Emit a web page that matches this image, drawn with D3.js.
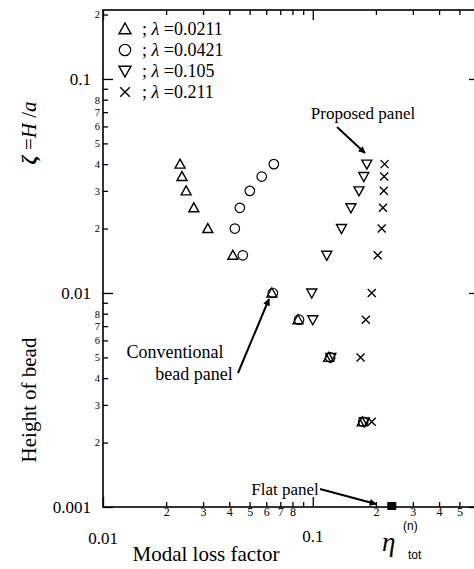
<!DOCTYPE html>
<html>
<head>
<meta charset="utf-8">
<script src="https://cdn.jsdelivr.net/npm/d3@7"></script>
<style>
  body { margin: 0; background: #fff; }
  svg { display: block; font-family: "Liberation Serif", "Times New Roman", serif; }
</style>
</head>
<body>
<div id="chart"></div>
<script>
// height of bead, zeta = H/a (shared by every series)
const heights = [0.04, 0.035, 0.03, 0.025, 0.02, 0.015, 0.01, 0.0075, 0.005, 0.0025];

// modal loss factor per lambda
const lossL0211 = [0.0233, 0.0238, 0.0249, 0.0271, 0.0316, 0.0416, 0.0638, 0.085, 0.119, 0.172];
const lossL0421 = [0.0652, 0.0571, 0.0501, 0.0449, 0.0425, 0.0464, 0.0645, 0.086, 0.121, 0.174];
const lossL105  = [0.181, 0.175, 0.166, 0.152, 0.137, 0.1166, 0.0989, 0.100, 0.122, 0.176];
const lossL211  = [0.220, 0.219, 0.218, 0.216, 0.213, 0.204, 0.191, 0.179, 0.169, 0.191];

const lambdas = ["0.0211", "0.0421", "0.105", "0.211"];
const symbols = ["tri", "circle", "invtri", "cross"];

// flat panel
const flatLoss = 0.238;
const flatHeight = 0.001;

const W = 474, H = 569;
const pLeft = 103, pRight = 479, pTop = 10, pBottom = 507;

const svg = d3.select("#chart").append("svg")
    .attr("width", W)
    .attr("height", H);

const x = d3.scaleLog().domain([0.01, 0.62]).range([pLeft, pRight]);
const y = d3.scaleLog().domain([0.001, 0.21]).range([pBottom, pTop]);

const digit = d => Math.round(d / Math.pow(10, Math.floor(Math.log10(d) + 1e-9)));
const isMajor = d => digit(d) === 1;
const minorLabel = d => { const k = digit(d); return (k >= 2 && k <= 8) ? String(k) : ""; };

const xTicks = x.ticks();
const yTicks = y.ticks();

// frame
svg.append("rect")
    .attr("x", pLeft).attr("y", pTop)
    .attr("width", pRight - pLeft).attr("height", pBottom - pTop)
    .attr("fill", "none").attr("stroke", "#000").attr("stroke-width", 1.6);

function styleAxis(g, dir, fs) {
    g.select(".domain").remove();
    g.selectAll(".tick line")
        .attr("stroke", "#000")
        .attr("stroke-width", 1.3);
    g.selectAll(".tick line").each(function (d) {
        const len = isMajor(d) ? 10 : 5;
        const sel = d3.select(this);
        if (dir === "bottom") sel.attr("y2", -len);
        if (dir === "top") sel.attr("y2", len);
        if (dir === "left") sel.attr("x2", len);
        if (dir === "right") sel.attr("x2", -len);
    });
    g.selectAll(".tick text")
        .attr("fill", "#000")
        .style("font-family", "Liberation Serif")
        .style("font-size", fs + "px");
}

// bottom axis
svg.append("g")
    .attr("transform", `translate(0,${pBottom})`)
    .call(d3.axisBottom(x).tickValues(xTicks).tickFormat(minorLabel).tickSizeInner(-5).tickPadding(0))
    .call(g => styleAxis(g, "bottom", 12));

// top axis
svg.append("g")
    .attr("transform", `translate(0,${pTop})`)
    .call(d3.axisTop(x).tickValues(xTicks).tickFormat("").tickSizeInner(-5))
    .call(g => styleAxis(g, "top", 12));

// left axis
svg.append("g")
    .attr("transform", `translate(${pLeft},0)`)
    .call(d3.axisLeft(y).tickValues(yTicks).tickFormat(minorLabel).tickSizeInner(-5).tickPadding(3))
    .call(g => styleAxis(g, "left", 10.5));

// right axis
svg.append("g")
    .attr("transform", `translate(${pRight},0)`)
    .call(d3.axisRight(y).tickValues(yTicks).tickFormat("").tickSizeInner(-5))
    .call(g => styleAxis(g, "right", 12));

// major labels
const majorX = xTicks.filter(isMajor);
svg.append("g").selectAll("text")
    .data(majorX)
    .join("text")
    .attr("x", d => x(d))
    .attr("y", d => d < 0.05 ? pBottom + 37 : pBottom + 35)
    .attr("text-anchor", "middle")
    .attr("font-size", 17)
    .text(d => d3.format("")(d));

const majorY = yTicks.filter(isMajor);
svg.append("g").selectAll("text")
    .data(majorY)
    .join("text")
    .attr("x", pLeft - 12)
    .attr("y", d => y(d))
    .attr("dy", "0.35em")
    .attr("text-anchor", "end")
    .attr("font-size", 17)
    .text(d => d3.format("")(d));

// axis titles
svg.append("text")
    .attr("x", 206).attr("y", 561)
    .attr("text-anchor", "middle")
    .attr("font-size", 21)
    .text("Modal loss factor");

svg.append("text")
    .attr("x", 382).attr("y", 551)
    .attr("font-size", 27)
    .attr("font-style", "italic")
    .text("η");
svg.append("text")
    .attr("x", 403).attr("y", 530)
    .attr("font-size", 12)
    .style("font-family", "Liberation Sans")
    .text("(n)");
svg.append("text")
    .attr("x", 408).attr("y", 559)
    .attr("font-size", 12)
    .style("font-family", "Liberation Sans")
    .text("tot");

svg.append("text")
    .attr("transform", "translate(36,400) rotate(-90)")
    .attr("text-anchor", "middle")
    .attr("font-size", 21)
    .text("Height of bead");

const zt = svg.append("text")
    .attr("transform", "translate(36,133) rotate(-90)")
    .attr("text-anchor", "middle")
    .attr("font-size", 21)
    .attr("font-style", "italic");
zt.append("tspan").attr("font-weight", "bold").text("ζ");
zt.append("tspan").attr("font-style", "normal").text(" =");
zt.append("tspan").text("H");
zt.append("tspan").attr("font-style", "normal").text(" /");
zt.append("tspan").text("a");

// symbol drawing
function drawSymbol(g, type, s) {
    const h = s / 2;
    if (type === "tri") {
        g.append("path").attr("d", `M0,${-h}L${h},${h * 0.8}L${-h},${h * 0.8}Z`)
            .attr("fill", "none").attr("stroke", "#000").attr("stroke-width", 1.4);
    } else if (type === "invtri") {
        g.append("path").attr("d", `M0,${h}L${h},${-h * 0.8}L${-h},${-h * 0.8}Z`)
            .attr("fill", "none").attr("stroke", "#000").attr("stroke-width", 1.4);
    } else if (type === "circle") {
        g.append("circle").attr("r", h * 0.95)
            .attr("fill", "none").attr("stroke", "#000").attr("stroke-width", 1.2);
    } else if (type === "cross") {
        const c = h * 0.8;
        g.append("path").attr("d", `M${-c},${-c}L${c},${c}M${c},${-c}L${-c},${c}`)
            .attr("fill", "none").attr("stroke", "#000").attr("stroke-width", 1.4);
    }
}

const seriesLoss = [lossL0211, lossL0421, lossL105, lossL211];
seriesLoss.forEach((loss, si) => {
    const pts = loss.map((v, i) => ({ loss: v, height: heights[i] }));
    svg.append("g").selectAll("g")
        .data(pts)
        .join("g")
        .attr("transform", d => `translate(${x(d.loss)},${y(d.height)})`)
        .each(function () { drawSymbol(d3.select(this), symbols[si], 10); });
});

// flat panel marker
svg.append("rect")
    .attr("x", x(flatLoss) - 4.5).attr("y", y(flatHeight) - 5)
    .attr("width", 9).attr("height", 8)
    .attr("fill", "#000");

// legend
const legend = svg.append("g");
lambdas.forEach((lam, i) => {
    const ly = 29 + i * 21;
    const sg = legend.append("g").attr("transform", `translate(125,${ly})`);
    drawSymbol(sg, symbols[i], 12);
    const t = legend.append("text")
        .attr("x", 142).attr("y", ly)
        .attr("dy", "0.35em")
        .attr("font-size", 18);
    t.append("tspan").text("; ");
    t.append("tspan").attr("font-style", "italic").text("λ");
    t.append("tspan").text(" =" + lam);
});

// annotations
svg.append("defs").append("marker")
    .attr("id", "arrow")
    .attr("viewBox", "0 0 10 10")
    .attr("refX", 9).attr("refY", 5)
    .attr("markerWidth", 9).attr("markerHeight", 7)
    .attr("markerUnits", "userSpaceOnUse")
    .attr("orient", "auto")
    .append("path").attr("d", "M0,0L10,5L0,10Z").attr("fill", "#000");

function arrow(x1, y1, x2, y2) {
    svg.append("line")
        .attr("x1", x1).attr("y1", y1).attr("x2", x2).attr("y2", y2)
        .attr("stroke", "#000").attr("stroke-width", 2)
        .attr("marker-end", "url(#arrow)");
}

svg.append("text").attr("x", 363).attr("y", 119)
    .attr("text-anchor", "middle").attr("font-size", 17)
    .text("Proposed panel");
arrow(337, 127, 365, 153);

svg.append("text").attr("x", 175).attr("y", 358)
    .attr("text-anchor", "middle").attr("font-size", 18)
    .text("Conventional");
svg.append("text").attr("x", 194).attr("y", 380)
    .attr("text-anchor", "middle").attr("font-size", 18)
    .text("bead panel");
arrow(238, 373, 269, 299);

svg.append("text").attr("x", 285).attr("y", 495)
    .attr("text-anchor", "middle").attr("font-size", 17)
    .text("Flat panel");
arrow(320, 489, 376, 504);
</script>
</body>
</html>
